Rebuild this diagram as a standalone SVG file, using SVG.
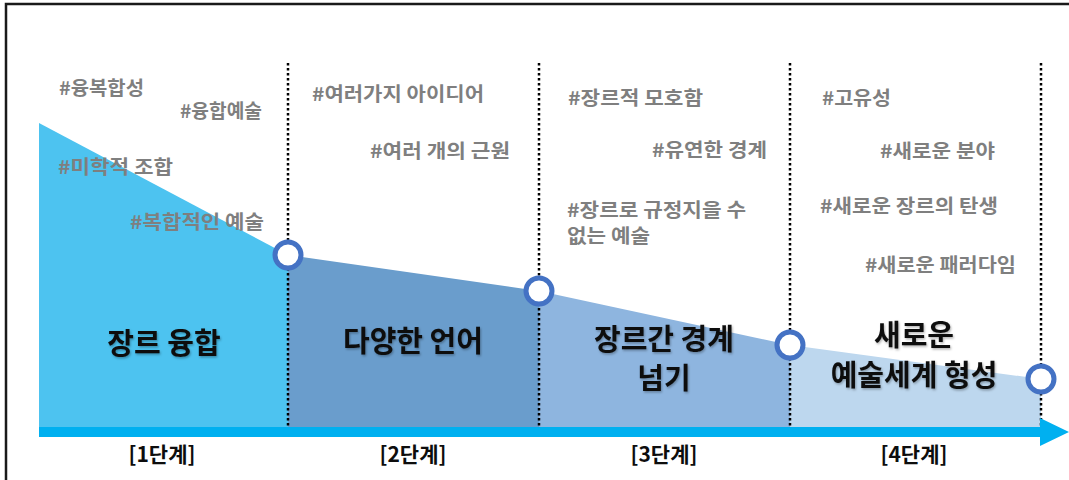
<svg xmlns="http://www.w3.org/2000/svg" width="1069" height="480" viewBox="0 0 1069 480">
  <defs>
    <style>
      .tag { font-family: "Noto Sans CJK KR", "Noto Sans", sans-serif; font-weight: bold; font-size: 19px; fill: #7F7F7F; }
      .main { font-family: "Noto Sans CJK KR", "Noto Sans", sans-serif; font-weight: bold; font-size: 29px; fill: #0D0D0D; text-anchor: middle; }
      .step { font-family: "Noto Sans CJK KR", "Noto Sans", sans-serif; font-weight: bold; font-size: 21px; fill: #0D0D0D; text-anchor: middle; }
      .div { stroke: #000; stroke-width: 2.5; stroke-dasharray: 2.5 2.5; fill: none; }
      .pt { fill: #FFFFFF; stroke: #4472C4; stroke-width: 5; }
    </style>
    <filter id="sh" x="-10%" y="-10%" width="130%" height="140%">
      <feDropShadow dx="1" dy="1.5" stdDeviation="1" flood-color="#000" flood-opacity="0.3"/>
    </filter>
  </defs>
  <rect x="0" y="0" width="1069" height="480" fill="#FFFFFF"/>
  <!-- frame -->
  <path d="M6,480 V4 H1069" fill="none" stroke="#1A1A1A" stroke-width="2.5"/>

  <g id="stage1">
    <polygon points="39,123 288,255 288,428 39,428" fill="#4DC3F0"/>
    <text class="tag" x="59" y="95" textLength="85" lengthAdjust="spacingAndGlyphs">#융복합성</text>
    <text class="tag" x="180" y="118" textLength="82" lengthAdjust="spacingAndGlyphs">#융합예술</text>
    <text class="tag" x="58" y="174" textLength="115" lengthAdjust="spacingAndGlyphs">#미학적 조합</text>
    <text class="tag" x="130" y="229" textLength="134" lengthAdjust="spacingAndGlyphs">#복합적인 예술</text>
    <text class="main" x="164" y="354" filter="url(#sh)">장르 융합</text>
    <text class="step" x="162" y="462">[1단계]</text>
  </g>
  <g id="stage2">
    <polygon points="288,255 539,291 539,428 288,428" fill="#6A9DCC"/>
    <text class="tag" x="312" y="101" textLength="172" lengthAdjust="spacingAndGlyphs">#여러가지 아이디어</text>
    <text class="tag" x="370" y="158" textLength="140" lengthAdjust="spacingAndGlyphs">#여러 개의 근원</text>
    <text class="main" x="413" y="352" filter="url(#sh)">다양한 언어</text>
    <text class="step" x="413" y="462">[2단계]</text>
  </g>
  <g id="stage3">
    <polygon points="539,291 790,345 790,428 539,428" fill="#8EB5DF"/>
    <text class="tag" x="568" y="105" textLength="135" lengthAdjust="spacingAndGlyphs">#장르적 모호함</text>
    <text class="tag" x="652" y="157" textLength="115" lengthAdjust="spacingAndGlyphs">#유연한 경계</text>
    <text class="tag" x="567" y="217" textLength="179" lengthAdjust="spacingAndGlyphs">#장르로 규정지을 수</text>
    <text class="tag" x="567" y="243" textLength="83" lengthAdjust="spacingAndGlyphs">없는 예술</text>
    <text class="main" x="664" y="350" filter="url(#sh)">장르간 경계</text>
    <text class="main" x="664" y="389" filter="url(#sh)">넘기</text>
    <text class="step" x="664" y="462">[3단계]</text>
  </g>
  <g id="stage4">
    <polygon points="790,345 1041,379 1041,428 790,428" fill="#BDD7EE"/>
    <text class="tag" x="822" y="105" textLength="69" lengthAdjust="spacingAndGlyphs">#고유성</text>
    <text class="tag" x="880" y="158" textLength="115" lengthAdjust="spacingAndGlyphs">#새로운 분야</text>
    <text class="tag" x="820" y="213" textLength="178" lengthAdjust="spacingAndGlyphs">#새로운 장르의 탄생</text>
    <text class="tag" x="865" y="272" textLength="151" lengthAdjust="spacingAndGlyphs">#새로운 패러다임</text>
    <text class="main" x="914" y="346" filter="url(#sh)">새로운</text>
    <text class="main" x="914" y="386" filter="url(#sh)">예술세계 형성</text>
    <text class="step" x="914" y="462">[4단계]</text>
  </g>

  <g id="connectors">
    <line class="div" x1="288" y1="63" x2="288" y2="428"/>
    <line class="div" x1="539" y1="63" x2="539" y2="428"/>
    <line class="div" x1="790" y1="63" x2="790" y2="428"/>
    <line class="div" x1="1041" y1="63" x2="1041" y2="428"/>
    <path d="M39,427 H1040 V418 L1069,432 L1040,446 V437 H39 Z" fill="#00B0F0"/>
  </g>
  <g id="points">
    <circle class="pt" cx="288" cy="255" r="13"/>
    <circle class="pt" cx="539" cy="291" r="13"/>
    <circle class="pt" cx="790" cy="345" r="13"/>
    <circle class="pt" cx="1041" cy="379" r="13"/>
  </g>
</svg>
